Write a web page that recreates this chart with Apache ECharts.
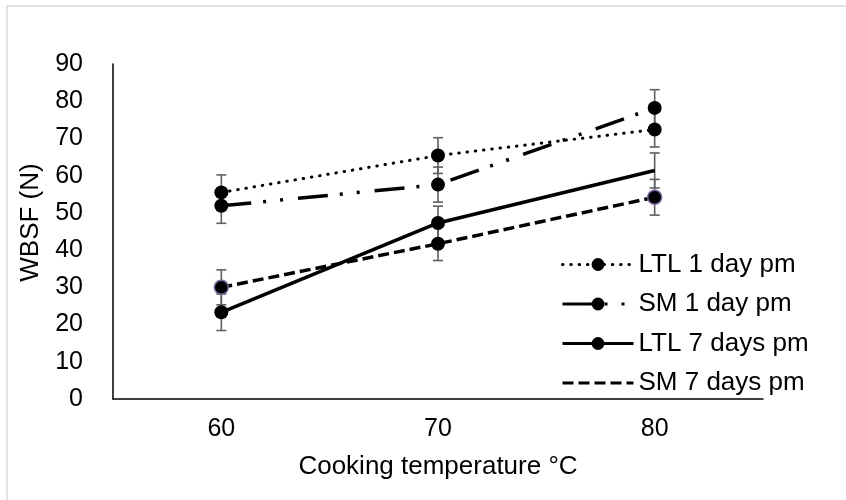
<!DOCTYPE html>
<html>
<head>
<meta charset="utf-8">
<script src="https://cdn.jsdelivr.net/npm/echarts@6/dist/echarts.min.js"></script>
<style>html,body{margin:0;padding:0;background:#fff}#c{width:846px;height:500px}</style>
</head>
<body>
<div id="c"></div>
<script>
const categories = ['60', '70', '80'];
const seriesNames = ['LTL 1 day pm', 'SM 1 day pm', 'LTL 7 days pm', 'SM 7 days pm'];
const ltl1 = [55.5, 65.4, 72.4];
const sm1 = [51.9, 57.6, 78.2];
const ltl7 = [23.3, 47.3, 61.4];
const sm7 = [30.0, 41.7, 54.2];
const errLtl1 = [4.7, 4.8, 4.7];
const errSm1 = [4.7, 4.7, 4.9];
const errLtl7 = [4.9, 4.5, 4.7];
const errSm7 = [4.7, 4.5, 4.8];
const yTicks = [0, 10, 20, 30, 40, 50, 60, 70, 80, 90];

const FONT = "'Liberation Sans', Arial, sans-serif";
const FS = 25;
const FS2 = 26;
const chart = echarts.init(document.getElementById('c'), null, {renderer: 'canvas'});

function errRender(params, api) {
  const x = api.value(0), y = api.value(1), e = api.value(2);
  const t = api.coord([x, y + e]);
  const b = api.coord([x, y - e]);
  const hw = 5;
  const st = {stroke: '#606060', lineWidth: 1.6};
  return {type: 'group', children: [
    {type: 'line', shape: {x1: t[0], y1: t[1], x2: b[0], y2: b[1]}, style: st},
    {type: 'line', shape: {x1: t[0] - hw, y1: t[1], x2: t[0] + hw, y2: t[1]}, style: st},
    {type: 'line', shape: {x1: b[0] - hw, y1: b[1], x2: b[0] + hw, y2: b[1]}, style: st}
  ]};
}
function errData(vals, errs) { return vals.map((v, i) => [i, v, errs[i]]); }

const purple = '#7d64a8';
const sm7Data = sm7.map((v, i) => ({
  value: v, symbol: 'circle',
  itemStyle: (i === 1) ? {color: '#000'} : {color: '#000', borderColor: purple, borderWidth: 1.5}
}));
const ltl7Data = ltl7.map((v, i) => (i === 2 ? {value: v, symbol: 'none'} : v));

chart.setOption({
  animation: false,
  backgroundColor: '#fff',
  textStyle: {fontFamily: FONT},
  graphic: [{
    type: 'rect', shape: {x: 7, y: 6, width: 1000, height: 1000},
    style: {fill: null, stroke: '#d9d9d9', lineWidth: 1.5}, silent: true, z: -1
  }],
  grid: {left: 113, right: 83, top: 64, bottom: 101},
  legend: {
    orient: 'vertical', left: 561, top: 251.5, padding: 0,
    itemWidth: 71, itemHeight: 16, itemGap: 13.5,
    textStyle: {fontSize: FS2, color: '#000', fontFamily: FONT, lineHeight: 25},
    lineStyle: {width: 3},
    data: [
      seriesNames[0], seriesNames[1], seriesNames[2],
      {name: seriesNames[3], itemStyle: {opacity: 0}}
    ]
  },
  xAxis: {
    type: 'category', data: categories, boundaryGap: true,
    name: 'Cooking temperature °C', nameLocation: 'middle', nameGap: 55,
    nameTextStyle: {fontSize: FS2, color: '#000', fontFamily: FONT},
    axisLine: {lineStyle: {color: '#000', width: 1.5}},
    axisTick: {show: false},
    axisLabel: {fontSize: FS, color: '#000', margin: 18, fontFamily: FONT}
  },
  yAxis: {
    type: 'value', min: 0, max: 90, interval: 10,
    name: 'WBSF (N)', nameLocation: 'middle', nameGap: 63, nameRotate: 90,
    nameTextStyle: {fontSize: FS2, color: '#000', fontFamily: FONT, padding: [0, 0, 0, 18]},
    axisLine: {show: true, lineStyle: {color: '#000', width: 1.5}},
    axisTick: {show: false},
    splitLine: {show: false},
    axisLabel: {fontSize: FS, color: '#000', margin: 30, fontFamily: FONT,
      formatter: v => (yTicks.indexOf(v) >= 0 ? String(v) : '')}
  },
  series: [
    {type: 'custom', name: 'e1', renderItem: errRender, data: errData(ltl1, errLtl1), z: 1, silent: true},
    {type: 'custom', name: 'e2', renderItem: errRender, data: errData(sm1, errSm1), z: 1, silent: true},
    {type: 'custom', name: 'e3', renderItem: errRender, data: errData(ltl7, errLtl7), z: 1, silent: true},
    {type: 'custom', name: 'e4', renderItem: errRender, data: errData(sm7, errSm7), z: 1, silent: true},
    {
      type: 'line', name: seriesNames[0], data: ltl1, z: 3,
      symbol: 'circle', symbolSize: 14, itemStyle: {color: '#000'},
      lineStyle: {color: '#000', width: 3, type: [0.5, 7.8], cap: 'round'}
    },
    {
      type: 'line', name: seriesNames[1], data: sm1, z: 3,
      symbol: 'circle', symbolSize: 14, itemStyle: {color: '#000'},
      lineStyle: {color: '#000', width: 3.5, type: [30, 12, 3, 14, 3, 15]}
    },
    {
      type: 'line', name: seriesNames[2], data: ltl7Data, z: 3,
      symbol: 'circle', symbolSize: 14, itemStyle: {color: '#000'},
      lineStyle: {color: '#000', width: 3.5, type: 'solid'}
    },
    {
      type: 'line', name: seriesNames[3], data: sm7Data, z: 3,
      symbol: 'none', symbolSize: 14, itemStyle: {color: '#000'},
      lineStyle: {color: '#000', width: 3.5, type: [11, 5]}
    }
  ]
});
</script>
</body>
</html>
